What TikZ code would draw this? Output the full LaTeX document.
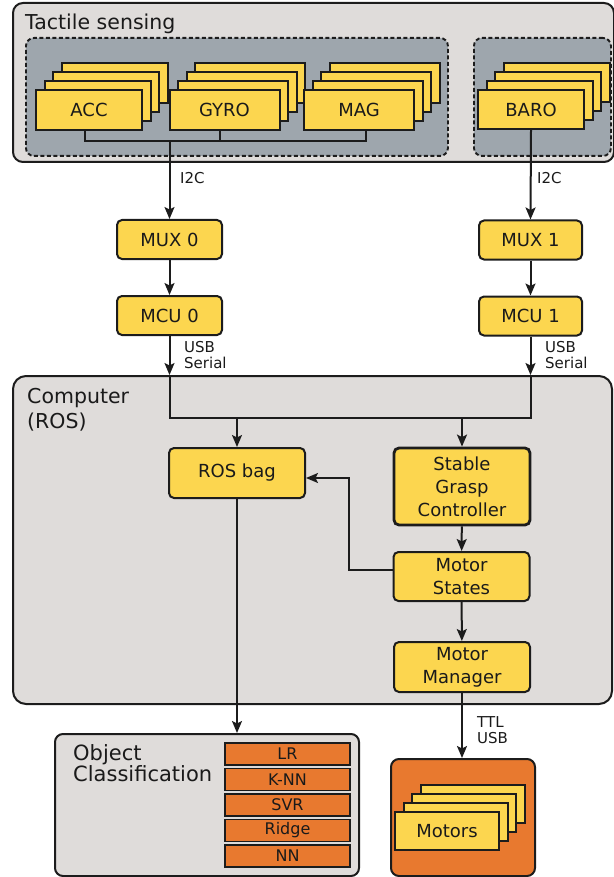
\documentclass[tikz,border=0pt]{standalone}
\usepackage{fontspec}
\setmainfont{DejaVu Sans}
\usetikzlibrary{arrows.meta}

\definecolor{panelgray}{HTML}{DFDCDA}
\definecolor{slate}{HTML}{9EA6AD}
\definecolor{yel}{HTML}{FCD64F}
\definecolor{orng}{HTML}{E8792F}
\definecolor{edge}{HTML}{1C1C1C}
\definecolor{txt}{HTML}{1A1A1A}

% A stack of three plain layers behind a named front box
% #1 name, #2 cx, #3 cy, #4 width, #5 height, #6 label
\newcommand{\layeredbox}[6]{%
  \foreach \k in {3,2,1}{%
    \draw[layer] ({#2-#4/2+\k*8.5},{#3-#5/2-\k*9}) rectangle ++(#4,#5);
  }
  \node[layer, font=\boxfont, text=txt, minimum width=#4pt, minimum height=#5pt] (#1) at (#2,#3) {#6};
}
\newcommand{\boxfont}{\fontsize{18}{23}\selectfont}
\newcommand{\titlefont}{\fontsize{20.5}{25}\selectfont}
\newcommand{\lblfont}{\fontsize{15}{16}\selectfont}

\begin{document}
\begin{tikzpicture}[x=1pt, y=-1pt,
  panel/.style={draw=edge, fill=panelgray, line width=2pt, rounded corners=10pt, inner sep=0pt},
  group/.style={draw=edge, fill=slate, line width=1.9pt, dash pattern=on 4pt off 2.5pt, rounded corners=8pt, inner sep=0pt},
  layer/.style={draw=edge, fill=yel, line width=2pt, inner sep=0pt},
  block/.style={draw=edge, fill=yel, line width=2pt, rounded corners=5pt, align=center, font=\boxfont, text=txt, inner sep=0pt},
  algo/.style={draw=edge, fill=orng, line width=1.6pt, font=\fontsize{16}{18}\selectfont, text=txt, inner sep=0pt, minimum width=125pt, minimum height=22pt},
  wire/.style={draw=edge, line width=2pt},
  arr/.style={wire, -{Stealth[length=12pt, width=10pt, inset=2.5pt]}},
  lbl/.style={font=\lblfont, text=txt, inner sep=0pt, align=left},
  ttl/.style={font=\titlefont, text=txt, inner sep=0pt, align=left}]
\useasboundingbox (0,0) rectangle (613,877);

% ---- panels ----
\node[panel, anchor=north west, minimum width=601pt, minimum height=159pt] (tactile) at (12,2) {};
\node[ttl, anchor=base west] (tactileT) at (25,30) {Tactile sensing};
\node[group, anchor=north west, minimum width=422pt, minimum height=118pt] (grpA) at (25,37) {};
\node[group, anchor=north west, minimum width=137pt, minimum height=118pt] (grpB) at (473,37) {};

\node[panel, rounded corners=13pt, anchor=north west, minimum width=599pt, minimum height=328pt] (computer) at (12,375) {};
\node[ttl, anchor=north west] (computerT) at (27,388) {Computer\\(ROS)};

\node[panel, rounded corners=8pt, anchor=north west, minimum width=304pt, minimum height=142pt] (objclass) at (54,733) {};
\node[ttl, anchor=north west, font=\fontsize{21}{20}\selectfont] (objclassT) at (73,744) {Object\\Classification};

\node[panel, fill=orng, rounded corners=8pt, anchor=north west, minimum width=144pt, minimum height=117pt] (motorsbox) at (390,758) {};

% ---- sensor stacks ----
\layeredbox{acc}{89}{110}{106}{40}{ACC}
\layeredbox{gyro}{224.5}{110}{110}{40}{GYRO}
\layeredbox{mag}{359}{110}{110}{40}{MAG}
\layeredbox{baro}{531}{109.5}{106}{39}{BARO}
\layeredbox{motors}{447}{831}{104}{38}{Motors}

% ---- blocks ----
\node[block, minimum width=105pt, minimum height=39pt] (mux0) at (169.5,239.5) {MUX 0};
\node[block, minimum width=105pt, minimum height=39pt] (mcu0) at (169.5,315.5) {MCU 0};
\node[block, minimum width=103pt, minimum height=39pt] (mux1) at (530.5,240) {MUX 1};
\node[block, minimum width=103pt, minimum height=39pt] (mcu1) at (530.5,316) {MCU 1};

\node[block, minimum width=136pt, minimum height=50pt] (rosbag) at (237,473) {ROS bag};
\node[block, line width=2.8pt, minimum width=136pt, minimum height=77pt] (sgc) at (462,486.5) {Stable\\Grasp\\Controller};
\node[block, minimum width=136pt, minimum height=49pt] (states) at (461.5,576.5) {Motor\\States};
\node[block, minimum width=136pt, minimum height=50pt] (manager) at (462,667) {Motor\\Manager};

% ---- classifiers ----
\node[algo] (lr) at (287.5,754) {LR};
\node[algo] (knn) at (287.5,779.5) {K-NN};
\node[algo] (svr) at (287.5,805) {SVR};
\node[algo] (ridge) at (287.5,830.5) {Ridge};
\node[algo] (nn) at (287.5,856) {NN};

% ---- sensor bus ----
\coordinate (busY) at (0,141);
\draw[wire] ([xshift=-4pt]acc.south) -- ([xshift=-4pt]acc.south |- busY)
  -- ([xshift=7pt]mag.south |- busY) -- ([xshift=7pt]mag.south);
\draw[wire] ([xshift=-5pt]gyro.south) -- ([xshift=-5pt]gyro.south |- busY);
\draw[arr] (mux0.north |- busY) -- (mux0.north);
\draw[arr] (baro.south) -- (mux1.north);
\node[lbl, anchor=north west] (i2c0) at (180,172) {I2C};
\node[lbl, anchor=north west] (i2c1) at (537,172) {I2C};

\draw[arr] (mux0) -- (mcu0);
\draw[arr] (mux1) -- (mcu1);

% ---- serial links into the computer ----
\coordinate (c0) at (mcu0.south |- computer.north);
\coordinate (c1) at (mcu1.south |- computer.north);
\coordinate (mergeY) at (0,418);
\draw[arr] (mcu0.south) -- (c0);
\draw[arr] (mcu1.south) -- (c1);
\node[lbl, anchor=north west] (usb0) at (184,341) {USB\\Serial};
\node[lbl, anchor=north west] (usb1) at (545,341) {USB\\Serial};
\draw[wire] (c0) -- (c0 |- mergeY) -- (c1 |- mergeY) -- (c1);
\draw[arr] (rosbag.north |- mergeY) -- (rosbag.north);
\draw[arr] (sgc.north |- mergeY) -- (sgc.north);

% ---- inside the computer ----
\draw[arr] (sgc) -- (states);
\draw[arr] (states) -- (manager);
\draw[arr] ([yshift=6.5pt]states.west) -- ++(-44,0) |- ([yshift=-5pt]rosbag.east);

% ---- outputs ----
\draw[arr] (rosbag.south) -- (rosbag.south |- objclass.north);
\draw[arr] (manager.south) -- (manager.south |- motorsbox.north);
\node[lbl, anchor=north west] (ttl) at (477,716) {TTL\\USB};
\end{tikzpicture}
\end{document}
